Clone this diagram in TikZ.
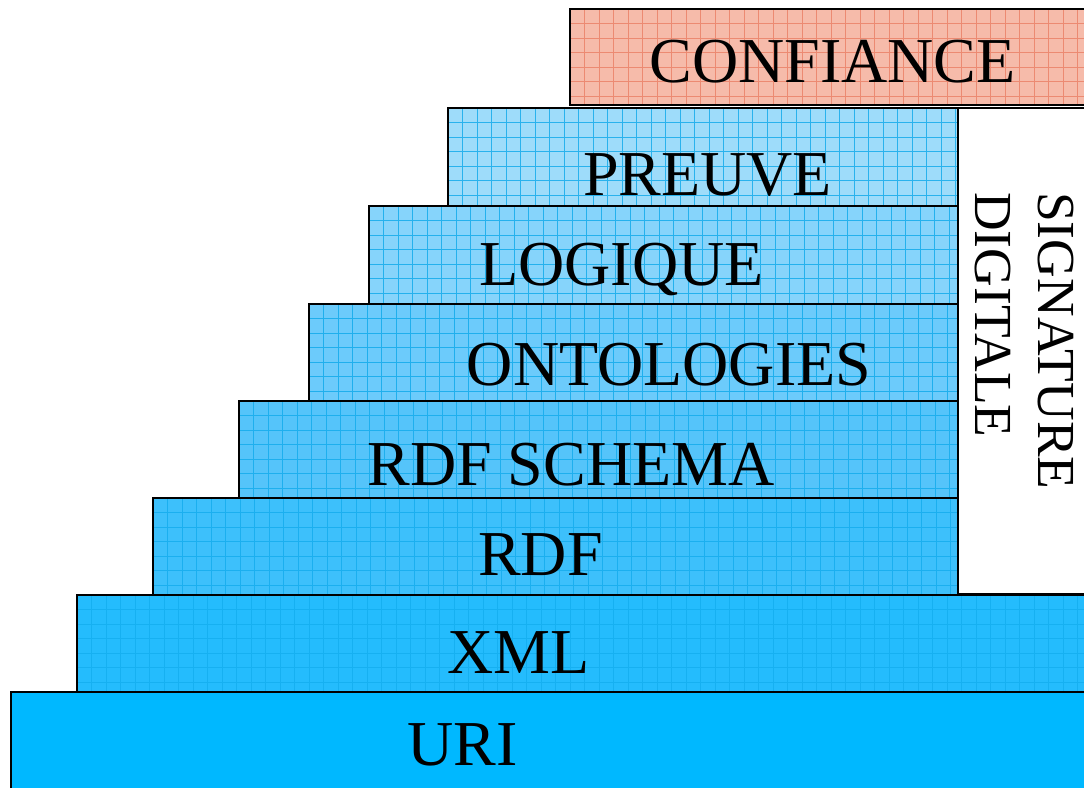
\documentclass[tikz,border=0pt]{standalone}
\usepackage{fontspec}
\setmainfont{Liberation Serif}
\definecolor{cConf}{HTML}{F6BBAA}
\definecolor{gConf}{HTML}{EC8A72}
\definecolor{cPre}{HTML}{9EDCFA}
\definecolor{cLog}{HTML}{86D4FB}
\definecolor{cOnt}{HTML}{6CCBFB}
\definecolor{cSch}{HTML}{55C4FA}
\definecolor{cRdf}{HTML}{3DC0FB}
\definecolor{cXml}{HTML}{24BCFD}
\definecolor{cUri}{HTML}{00B8FF}
\definecolor{gBlue}{HTML}{0CA8EA}
\tikzset{
  edge/.style={draw=black, line width=2pt},
  lbl/.style={font=\fontsize{64}{60}\selectfont, inner sep=0pt, anchor=base},
  siglbl/.style={font=\fontsize{53.5}{52}\selectfont, inner sep=0pt, anchor=base west, rotate=-90},
}
% #1 name, #2 x1, #3 y1, #4 x2, #5 y2, #6 fill, #7 grid colour
\newcommand\gridlayer[7]{%
  \fill[#6] (#2,#3) rectangle (#4,#5);
  \begin{scope}
    \clip (#2,#3) rectangle (#4,#5);
    \foreach \i in {1,...,75} {\draw[#7, line width=0.9pt] ({#2+\i*14.5},#3) -- ({#2+\i*14.5},#5);}
    \foreach \j in {1,...,7} {\draw[#7, line width=0.9pt] (#2,{#3+\j*14.5}) -- (#4,{#3+\j*14.5});}
  \end{scope}
  \draw[edge] (#2,#3) rectangle (#4,#5);
  \coordinate (#1) at ({(#2+#4)/2},{(#3+#5)/2});
}
\begin{document}
\begin{tikzpicture}[x=1pt,y=-1pt]
\useasboundingbox (0,0) rectangle (1084,787);
\clip (0,0) rectangle (1084,787);
\fill[white] (0,0) rectangle (1084,787);
% signature box
\draw[edge, fill=white] (958,108) rectangle (1100,594);
\coordinate (sig) at (1020,350);
\gridlayer{conf}{570}{9}{1100}{105}{cConf}{gConf}
\gridlayer{pre}{448}{108}{958}{206}{cPre}{gBlue!80!cPre}
\gridlayer{log}{369}{206}{958}{304}{cLog}{gBlue!80!cLog}
\gridlayer{ont}{309}{304}{958}{401}{cOnt}{gBlue!80!cOnt}
\gridlayer{sch}{239}{401}{958}{498}{cSch}{gBlue!75!cSch}
\gridlayer{rdf}{153}{498}{958}{595}{cRdf}{gBlue!70!cRdf}
\gridlayer{xml}{77}{595}{1100}{692}{cXml}{gBlue!60!cXml}
\fill[cUri] (11,692) rectangle (1100,800);
\draw[edge] (11,692) rectangle (1100,800);
\coordinate (uri) at (550,740);
\node[lbl] (tconf) at (832.5,82) {CONFIANCE};
\node[lbl] (tpre) at (707.5,195) {PREUVE};
\node[lbl] (tlog) at (621.5,285) {LOGIQUE};
\node[lbl] (tont) at (669,385) {ONTOLOGIES};
\node[lbl] (tsch) at (571,485) {RDF SCHEMA};
\node[lbl] (trdf) at (540.5,575) {RDF};
\node[lbl] (txml) at (518.5,673) {XML};
\node[lbl] (turi) at (462.5,765) {URI};
\node[siglbl] (tsig1) at (1038,192) {SIGNATURE};
\node[siglbl] (tsig2) at (975,192) {DIGITALE};
\end{tikzpicture}
\end{document}
